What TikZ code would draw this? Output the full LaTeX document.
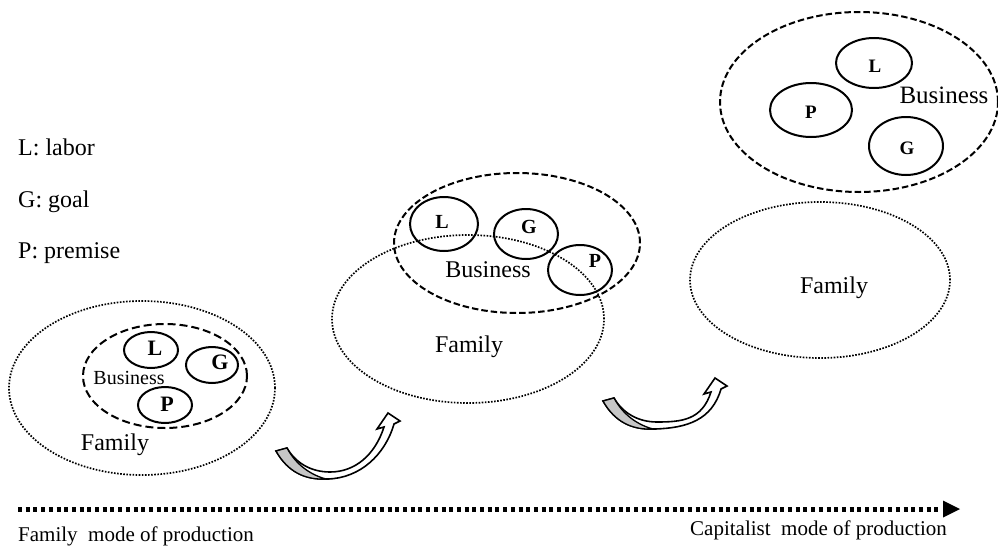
\documentclass[tikz,border=0pt]{standalone}
\usepackage{fontspec}
\setmainfont{Liberation Serif}
\usetikzlibrary{shapes.geometric}

\begin{document}
\begin{tikzpicture}[x=1pt,y=-1pt,
  famring/.style={ellipse, draw, line width=1.7pt, dash pattern=on 1.6pt off 1.5pt, inner sep=0pt},
  busring/.style={ellipse, draw, line width=2pt, dash pattern=on 6.5pt off 3pt, inner sep=0pt},
  unit/.style={ellipse, draw, line width=2pt, inner sep=0pt},
  letter/.style={font=\bfseries\fontsize{#1}{#1}\selectfont, inner sep=0pt},
  lbl/.style={font=\fontsize{#1}{#1}\selectfont, inner sep=0pt},
  pics/curlarrow/.style={code={
    % ribbon body with hollow head
    \filldraw[fill=white, line width=1.6pt, line join=miter]
      (0,0) .. controls (12,21) and (29,29) .. (52,28)
      .. controls (84,27) and (109,{4+#1}) .. (118,{-27+#1})
      -- (124,{-30+#1}) -- (112,{-38+#1}) -- (101,{-22+#1}) -- (108,{-24+#1})
      .. controls (99,{4+#1}) and (79,21) .. (54,21)
      .. controls (34,21) and (19,11) .. (11,-3) -- cycle;
    % shaded underside of the ribbon
    \filldraw[fill=gray!45, line width=1.3pt]
      (0,0) .. controls (12,21) and (29,29) .. (50,28)
      .. controls (35,24) and (20,14) .. (11,-3) -- cycle;
  }}
]
\useasboundingbox (0,0) rectangle (998,546);
\fill[white] (0,0) rectangle (998,546);

% legend
\node[lbl=24, anchor=base west] (legL) at (18,155) {L: labor};
\node[lbl=24, anchor=base west] (legG) at (18,207) {G: goal};
\node[lbl=24, anchor=base west] (legP) at (18,258) {P: premise};

% stage 1: business inside the family
\node[famring, minimum width=266pt, minimum height=174pt] (f1) at (142,388) {};
\node[busring, dash pattern=on 8pt off 4pt, minimum width=164pt, minimum height=104pt] (b1) at (165,376) {};
\node[unit, minimum width=54pt, minimum height=36pt] (l1) at (151,350) {};
\node[unit, minimum width=52pt, minimum height=36pt] (g1) at (212,365) {};
\node[unit, minimum width=54pt, minimum height=36pt] (p1) at (165,405) {};
\node[letter=22] (l1t) at (155,348) {L};
\node[letter=22] (g1t) at (220,362) {G};
\node[letter=22] (p1t) at (167,404) {P};
\node[lbl=20] (b1t) at (129,378) {Business};
\node[lbl=24] (f1t) at (115,445) {Family};

% stage 2: business partly outside the family
\node[famring, minimum width=272pt, minimum height=168pt] (f2) at (468,319) {};
\node[busring, minimum width=246pt, minimum height=140pt] (b2) at (517,243) {};
\node[unit, minimum width=68pt, minimum height=54pt] (l2) at (444,224) {};
\node[unit, minimum width=64pt, minimum height=50pt] (g2) at (526,234) {};
\node[unit, minimum width=64pt, minimum height=50pt] (p2) at (580,270) {};
\node[letter=20] (l2t) at (442,222) {L};
\node[letter=20] (g2t) at (529,227) {G};
\node[letter=20] (p2t) at (595,261) {P};
\node[lbl=24] (b2t) at (488,270) {Business};
\node[lbl=24] (f2t) at (469,347) {Family};

% stage 3: business separated from the family
\node[busring, minimum width=278pt, minimum height=180pt] (b3) at (859,102) {};
\node[unit, minimum width=76pt, minimum height=50pt] (l3) at (874,63) {};
\node[unit, minimum width=82pt, minimum height=54pt] (p3) at (811,110) {};
\node[unit, minimum width=74pt, minimum height=58pt] (g3) at (906,146) {};
\node[letter=19] (l3t) at (875,66) {L};
\node[letter=19] (p3t) at (811,112) {P};
\node[letter=19] (g3t) at (907,148) {G};
\node[lbl=25] (b3t) at (944,95) {Business};
\node[famring, minimum width=260pt, minimum height=156pt] (f3) at (820,280) {};
\node[lbl=24] (f3t) at (834,288) {Family};

% transition arrows
\pic at (276,451) {curlarrow=0};
\pic at (603,401) {curlarrow=15};

% time line
\coordinate (t0) at (18,509);
\coordinate (t1) at (941,509);
\draw[line width=5pt, dash pattern=on 4pt off 3.7pt] (t0) -- (t1);
\fill (t1) ++(2,-8.5) -- ++(17,8.5) -- ++(-17,8.5) -- cycle;
\node[lbl=21, anchor=base west] (m1) at (18,541) {Family\ \ mode of production};
\node[lbl=21, anchor=base east] (m2) at (947,535) {Capitalist\ \ mode of production};
\end{tikzpicture}
\end{document}
